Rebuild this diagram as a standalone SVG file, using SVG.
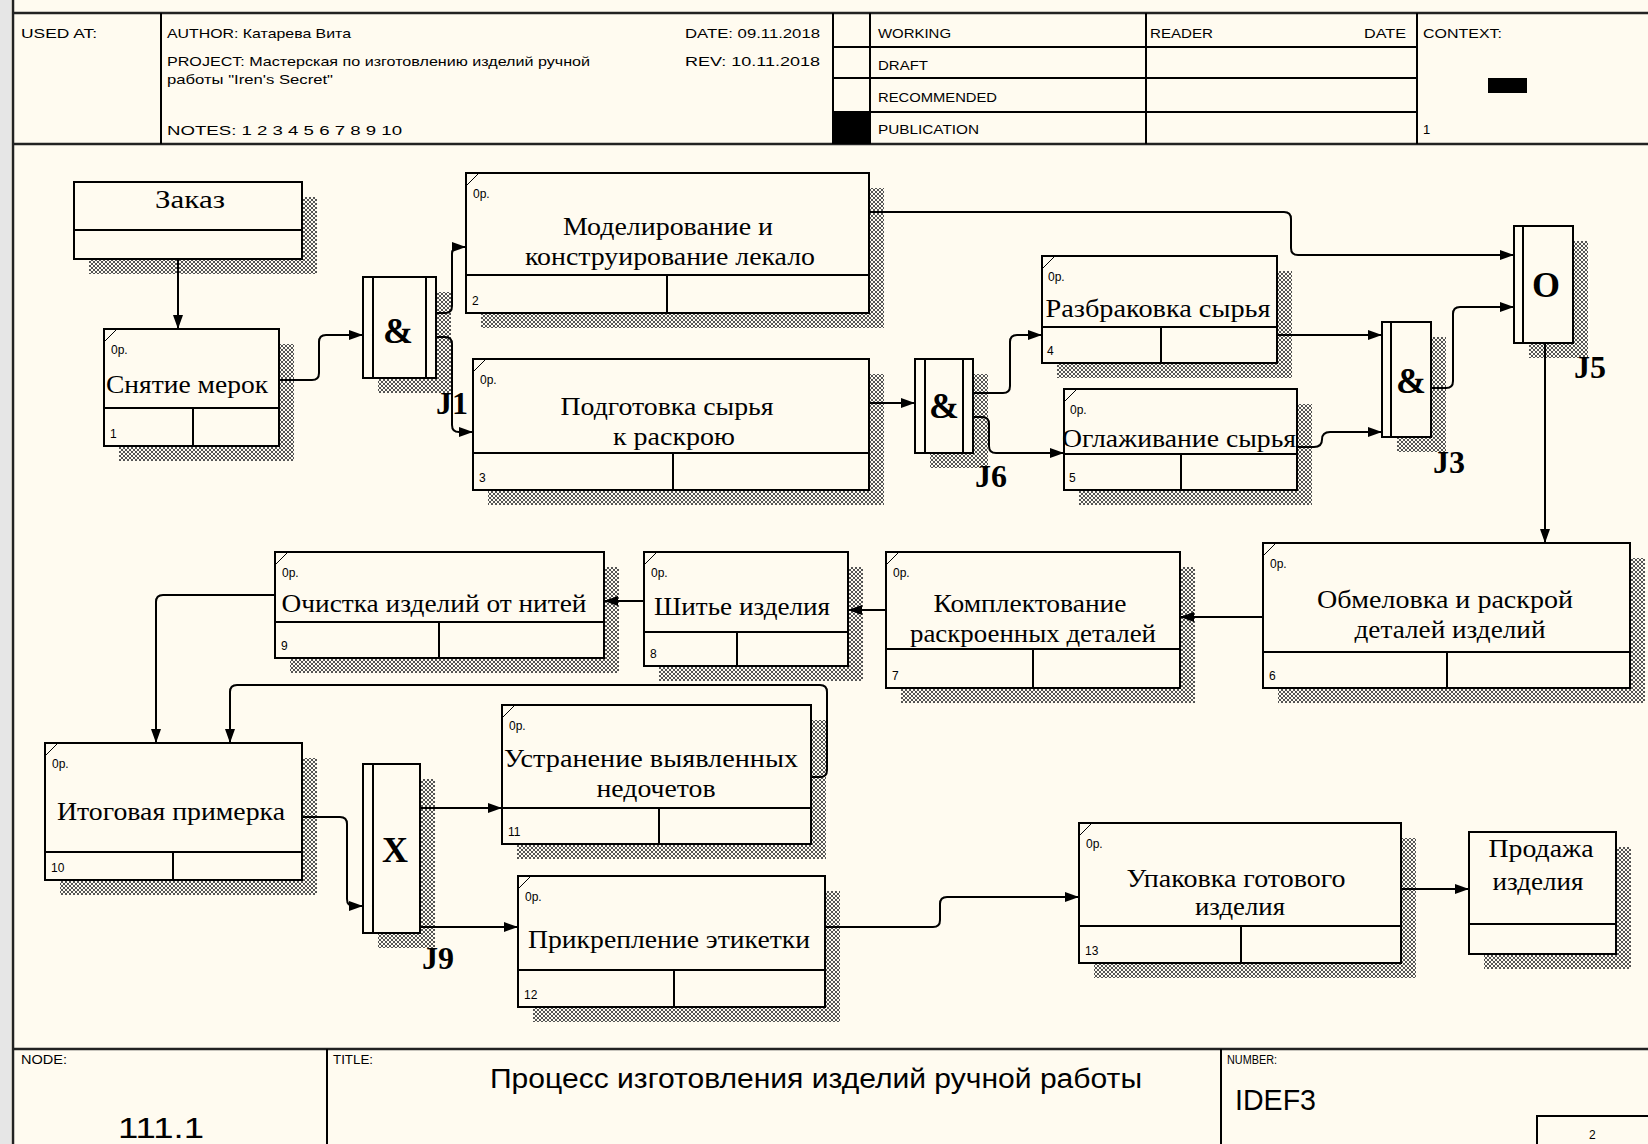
<svg xmlns="http://www.w3.org/2000/svg" width="1648" height="1144" viewBox="0 0 1648 1144">
<style>
.bg{fill:#FFFBF0}
.box{fill:#FFFBF0;stroke:#000;stroke-width:2}
.ln{stroke:#000;stroke-width:2;fill:none}
.fr{stroke:#222;stroke-width:2.5;fill:none}
.sh{fill:url(#hatch)}
.lbl{font-family:"Liberation Serif","Times New Roman",serif;font-size:25px;text-anchor:middle;fill:#000}
.sm{font-family:"Liberation Sans",Arial,sans-serif;font-size:12px;fill:#000}
.jl{font-family:"Liberation Serif","Times New Roman",serif;font-weight:bold;font-size:32px;fill:#000}
.js{font-family:"Liberation Serif","Times New Roman",serif;font-weight:bold;font-size:36px;text-anchor:middle;fill:#000}
.hd{font-family:"Liberation Sans",Arial,sans-serif;font-size:13px;fill:#000}
.big{font-family:"Liberation Sans",Arial,sans-serif;font-size:28px;fill:#000}
.con{stroke:#000;stroke-width:2;fill:none;marker-end:url(#arr)}
</style>
<defs>
<pattern id="hatch" width="4" height="4" patternUnits="userSpaceOnUse">
<path d="M0,0h1v1h-1zM1,1h1v1h-1zM2,2h1v1h-1zM3,3h1v1h-1zM3,0h1v1h-1zM2,1h1v1h-1zM1,2h1v1h-1zM0,3h1v1h-1z" fill="#555"/>
</pattern>
<marker id="arr" viewBox="0 0 14 10" refX="14" refY="5" markerWidth="14" markerHeight="10" markerUnits="userSpaceOnUse" orient="auto">
<path d="M0,0 L14,5 L0,10 z" fill="#000"/>
</marker>
</defs>
<rect class="bg" x="0" y="0" width="1648" height="1144"/>
<rect x="0" y="0" width="11" height="1144" fill="#E6E6E6"/>

<g id="frame">
<line class="fr" x1="13" y1="0" x2="13" y2="1144"/>
<line class="fr" x1="13" y1="13" x2="1648" y2="13"/>
<line class="fr" x1="13" y1="144" x2="1648" y2="144"/>
<line class="ln" x1="161" y1="13" x2="161" y2="144"/>
<line class="ln" x1="833" y1="13" x2="833" y2="144"/>
<line class="ln" x1="870" y1="13" x2="870" y2="144"/>
<line class="ln" x1="1146" y1="13" x2="1146" y2="144"/>
<line class="ln" x1="1417" y1="13" x2="1417" y2="144"/>
<line class="ln" x1="833" y1="47" x2="1417" y2="47"/>
<line class="ln" x1="833" y1="78" x2="1417" y2="78"/>
<line class="ln" x1="833" y1="112" x2="1417" y2="112"/>
<rect x="833" y="112" width="37" height="32" fill="#000"/>
<rect x="1488" y="78" width="39" height="15" fill="#000"/>
<text class="hd" x="21" y="38" textLength="76" lengthAdjust="spacingAndGlyphs">USED AT:</text>
<text class="hd" x="167" y="38" textLength="184" lengthAdjust="spacingAndGlyphs">AUTHOR:  Катарева Вита</text>
<text class="hd" x="167" y="66" textLength="423" lengthAdjust="spacingAndGlyphs">PROJECT:  Мастерская по изготовлению изделий ручной</text>
<text class="hd" x="167" y="84" textLength="166" lengthAdjust="spacingAndGlyphs">работы "Iren's Secret"</text>
<text class="hd" x="167" y="135" textLength="235" lengthAdjust="spacingAndGlyphs">NOTES:  1  2  3  4  5  6  7  8  9  10</text>
<text class="hd" x="685" y="38" textLength="135" lengthAdjust="spacingAndGlyphs">DATE:  09.11.2018</text>
<text class="hd" x="685" y="66" textLength="135" lengthAdjust="spacingAndGlyphs">REV:    10.11.2018</text>
<text class="hd" x="878" y="38" textLength="73" lengthAdjust="spacingAndGlyphs">WORKING</text>
<text class="hd" x="878" y="70" textLength="50" lengthAdjust="spacingAndGlyphs">DRAFT</text>
<text class="hd" x="878" y="102" textLength="119" lengthAdjust="spacingAndGlyphs">RECOMMENDED</text>
<text class="hd" x="878" y="134" textLength="101" lengthAdjust="spacingAndGlyphs">PUBLICATION</text>
<text class="hd" x="1150" y="38" textLength="63" lengthAdjust="spacingAndGlyphs">READER</text>
<text class="hd" x="1364" y="38" textLength="42" lengthAdjust="spacingAndGlyphs">DATE</text>
<text class="hd" x="1423" y="38" textLength="79" lengthAdjust="spacingAndGlyphs">CONTEXT:</text>
<text class="hd" x="1423" y="134">1</text>

<line class="fr" x1="13" y1="1049" x2="1648" y2="1049"/>
<line class="ln" x1="327" y1="1049" x2="327" y2="1144"/>
<line class="ln" x1="1221" y1="1049" x2="1221" y2="1144"/>
<polyline class="ln" points="1537,1144 1537,1116 1648,1116"/>
<text class="sm" x="21" y="1064" textLength="46" lengthAdjust="spacingAndGlyphs">NODE:</text>
<text class="sm" x="333" y="1064" textLength="40" lengthAdjust="spacingAndGlyphs">TITLE:</text>
<text class="sm" x="1227" y="1064" textLength="50" lengthAdjust="spacingAndGlyphs">NUMBER:</text>
<text class="hd" x="816" y="1088" style="font-size:27px" text-anchor="middle" textLength="652" lengthAdjust="spacingAndGlyphs">Процесс изготовления  изделий ручной работы</text>
<text class="big" x="118" y="1138" style="font-size:30px" textLength="86" lengthAdjust="spacingAndGlyphs">111.1</text>
<text class="big" x="1235" y="1110" style="font-size:30px" textLength="81" lengthAdjust="spacingAndGlyphs">IDEF3</text>
<text class="sm" x="1589" y="1139">2</text>
</g>

<g id="ref-zakaz">
<rect class="sh" x="302" y="197" width="15" height="77"/><rect class="sh" x="89" y="259" width="213" height="15"/>
<rect class="box" x="74" y="182" width="228" height="77"/>
<line class="ln" x1="74" y1="230" x2="302" y2="230"/>
<text class="lbl" x="190" y="208" textLength="70" lengthAdjust="spacingAndGlyphs">Заказ</text>
</g>

<g id="uob1">
<rect class="sh" x="279" y="344" width="15" height="117"/><rect class="sh" x="119" y="446" width="160" height="15"/>
<rect class="box" x="104" y="329" width="175" height="117"/>
<line class="ln" x1="104" y1="408" x2="279" y2="408"/><line class="ln" x1="193" y1="408" x2="193" y2="446"/>
<line class="ln" x1="104" y1="342" x2="117" y2="329" style="stroke-width:1"/>
<text class="sm" x="111" y="354">0p.</text><text class="sm" x="110" y="438">1</text>
<text class="lbl" x="187" y="393" textLength="162" lengthAdjust="spacingAndGlyphs">Снятие мерок</text>
</g>

<g id="uob2">
<rect class="sh" x="869" y="188" width="15" height="140"/><rect class="sh" x="481" y="313" width="388" height="15"/>
<rect class="box" x="466" y="173" width="403" height="140"/>
<line class="ln" x1="466" y1="275" x2="869" y2="275"/><line class="ln" x1="667" y1="275" x2="667" y2="313"/>
<line class="ln" x1="466" y1="186" x2="479" y2="173" style="stroke-width:1"/>
<text class="sm" x="473" y="198">0p.</text><text class="sm" x="472" y="305">2</text>
<text class="lbl" x="668" y="235" textLength="210" lengthAdjust="spacingAndGlyphs">Моделирование и</text>
<text class="lbl" x="670" y="265" textLength="290" lengthAdjust="spacingAndGlyphs">конструирование лекало</text>
</g>

<g id="uob3">
<rect class="sh" x="869" y="374" width="15" height="131"/><rect class="sh" x="488" y="490" width="381" height="15"/>
<rect class="box" x="473" y="359" width="396" height="131"/>
<line class="ln" x1="473" y1="453" x2="869" y2="453"/><line class="ln" x1="673" y1="453" x2="673" y2="490"/>
<line class="ln" x1="473" y1="372" x2="486" y2="359" style="stroke-width:1"/>
<text class="sm" x="480" y="384">0p.</text><text class="sm" x="479" y="482">3</text>
<text class="lbl" x="667" y="415" textLength="213" lengthAdjust="spacingAndGlyphs">Подготовка сырья</text>
<text class="lbl" x="674" y="445" textLength="122" lengthAdjust="spacingAndGlyphs">к раскрою</text>
</g>

<g id="uob4">
<rect class="sh" x="1277" y="271" width="15" height="107"/><rect class="sh" x="1057" y="363" width="220" height="15"/>
<rect class="box" x="1042" y="256" width="235" height="107"/>
<line class="ln" x1="1042" y1="327" x2="1277" y2="327"/><line class="ln" x1="1161" y1="327" x2="1161" y2="363"/>
<line class="ln" x1="1042" y1="269" x2="1055" y2="256" style="stroke-width:1"/>
<text class="sm" x="1048" y="281">0p.</text><text class="sm" x="1047" y="355">4</text>
<text class="lbl" x="1158" y="317" textLength="225" lengthAdjust="spacingAndGlyphs">Разбраковка сырья</text>
</g>

<g id="uob5">
<rect class="sh" x="1297" y="404" width="15" height="101"/><rect class="sh" x="1079" y="490" width="218" height="15"/>
<rect class="box" x="1064" y="389" width="233" height="101"/>
<line class="ln" x1="1064" y1="454" x2="1297" y2="454"/><line class="ln" x1="1181" y1="454" x2="1181" y2="490"/>
<line class="ln" x1="1064" y1="402" x2="1077" y2="389" style="stroke-width:1"/>
<text class="sm" x="1070" y="414">0p.</text><text class="sm" x="1069" y="482">5</text>
<text class="lbl" x="1179" y="447" textLength="234" lengthAdjust="spacingAndGlyphs">Оглаживание сырья</text>
</g>

<g id="uob6">
<rect class="sh" x="1630" y="558" width="15" height="145"/><rect class="sh" x="1278" y="688" width="352" height="15"/>
<rect class="box" x="1263" y="543" width="367" height="145"/>
<line class="ln" x1="1263" y1="652" x2="1630" y2="652"/><line class="ln" x1="1447" y1="652" x2="1447" y2="688"/>
<line class="ln" x1="1263" y1="556" x2="1276" y2="543" style="stroke-width:1"/>
<text class="sm" x="1270" y="568">0p.</text><text class="sm" x="1269" y="680">6</text>
<text class="lbl" x="1445" y="608" textLength="256" lengthAdjust="spacingAndGlyphs">Обмеловка и раскрой</text>
<text class="lbl" x="1450" y="638" textLength="191" lengthAdjust="spacingAndGlyphs">деталей изделий</text>
</g>

<g id="uob7">
<rect class="sh" x="1180" y="567" width="15" height="136"/><rect class="sh" x="901" y="688" width="279" height="15"/>
<rect class="box" x="886" y="552" width="294" height="136"/>
<line class="ln" x1="886" y1="649" x2="1180" y2="649"/><line class="ln" x1="1033" y1="649" x2="1033" y2="688"/>
<line class="ln" x1="886" y1="565" x2="899" y2="552" style="stroke-width:1"/>
<text class="sm" x="893" y="577">0p.</text><text class="sm" x="892" y="680">7</text>
<text class="lbl" x="1030" y="612" textLength="193" lengthAdjust="spacingAndGlyphs">Комплектование</text>
<text class="lbl" x="1033" y="642" textLength="246" lengthAdjust="spacingAndGlyphs">раскроенных деталей</text>
</g>

<g id="uob8">
<rect class="sh" x="848" y="567" width="15" height="114"/><rect class="sh" x="659" y="666" width="189" height="15"/>
<rect class="box" x="644" y="552" width="204" height="114"/>
<line class="ln" x1="644" y1="632" x2="848" y2="632"/><line class="ln" x1="737" y1="632" x2="737" y2="666"/>
<line class="ln" x1="644" y1="565" x2="657" y2="552" style="stroke-width:1"/>
<text class="sm" x="651" y="577">0p.</text><text class="sm" x="650" y="658">8</text>
<text class="lbl" x="742" y="615" textLength="176" lengthAdjust="spacingAndGlyphs">Шитье изделия</text>
</g>

<g id="uob9">
<rect class="sh" x="604" y="567" width="15" height="106"/><rect class="sh" x="290" y="658" width="314" height="15"/>
<rect class="box" x="275" y="552" width="329" height="106"/>
<line class="ln" x1="275" y1="622" x2="604" y2="622"/><line class="ln" x1="439" y1="622" x2="439" y2="658"/>
<line class="ln" x1="275" y1="565" x2="288" y2="552" style="stroke-width:1"/>
<text class="sm" x="282" y="577">0p.</text><text class="sm" x="281" y="650">9</text>
<text class="lbl" x="434" y="612" textLength="305" lengthAdjust="spacingAndGlyphs">Очистка изделий от нитей</text>
</g>

<g id="uob10">
<rect class="sh" x="302" y="758" width="15" height="137"/><rect class="sh" x="60" y="880" width="242" height="15"/>
<rect class="box" x="45" y="743" width="257" height="137"/>
<line class="ln" x1="45" y1="852" x2="302" y2="852"/><line class="ln" x1="173" y1="852" x2="173" y2="880"/>
<line class="ln" x1="45" y1="756" x2="58" y2="743" style="stroke-width:1"/>
<text class="sm" x="52" y="768">0p.</text><text class="sm" x="51" y="872">10</text>
<text class="lbl" x="171" y="820" textLength="228" lengthAdjust="spacingAndGlyphs">Итоговая примерка</text>
</g>

<g id="uob11">
<rect class="sh" x="811" y="720" width="15" height="139"/><rect class="sh" x="517" y="844" width="294" height="15"/>
<rect class="box" x="502" y="705" width="309" height="139"/>
<line class="ln" x1="502" y1="808" x2="811" y2="808"/><line class="ln" x1="659" y1="808" x2="659" y2="844"/>
<line class="ln" x1="502" y1="718" x2="515" y2="705" style="stroke-width:1"/>
<text class="sm" x="509" y="730">0p.</text><text class="sm" x="508" y="836">11</text>
<text class="lbl" x="651" y="767" textLength="294" lengthAdjust="spacingAndGlyphs">Устранение  выявленных</text>
<text class="lbl" x="656" y="797" textLength="119" lengthAdjust="spacingAndGlyphs">недочетов</text>
</g>

<g id="uob12">
<rect class="sh" x="825" y="891" width="15" height="131"/><rect class="sh" x="533" y="1007" width="292" height="15"/>
<rect class="box" x="518" y="876" width="307" height="131"/>
<line class="ln" x1="518" y1="970" x2="825" y2="970"/><line class="ln" x1="674" y1="970" x2="674" y2="1007"/>
<line class="ln" x1="518" y1="889" x2="531" y2="876" style="stroke-width:1"/>
<text class="sm" x="525" y="901">0p.</text><text class="sm" x="524" y="999">12</text>
<text class="lbl" x="669" y="948" textLength="282" lengthAdjust="spacingAndGlyphs">Прикрепление этикетки</text>
</g>

<g id="uob13">
<rect class="sh" x="1401" y="838" width="15" height="140"/><rect class="sh" x="1094" y="963" width="307" height="15"/>
<rect class="box" x="1079" y="823" width="322" height="140"/>
<line class="ln" x1="1079" y1="926" x2="1401" y2="926"/><line class="ln" x1="1241" y1="926" x2="1241" y2="963"/>
<line class="ln" x1="1079" y1="836" x2="1092" y2="823" style="stroke-width:1"/>
<text class="sm" x="1086" y="848">0p.</text><text class="sm" x="1085" y="955">13</text>
<text class="lbl" x="1236" y="887" textLength="219" lengthAdjust="spacingAndGlyphs">Упаковка готового</text>
<text class="lbl" x="1240" y="915" textLength="90" lengthAdjust="spacingAndGlyphs">изделия</text>
</g>

<g id="ref-prodazha">
<rect class="sh" x="1616" y="847" width="15" height="122"/><rect class="sh" x="1484" y="954" width="132" height="15"/>
<rect class="box" x="1469" y="832" width="147" height="122"/>
<line class="ln" x1="1469" y1="924" x2="1616" y2="924"/>
<text class="lbl" x="1541" y="857" textLength="105" lengthAdjust="spacingAndGlyphs">Продажа</text>
<text class="lbl" x="1538" y="890" textLength="91" lengthAdjust="spacingAndGlyphs">изделия</text>
</g>

<g id="j1">
<rect class="sh" x="436" y="292" width="15" height="101"/><rect class="sh" x="378" y="378" width="58" height="15"/>
<rect class="box" x="363" y="277" width="73" height="101"/>
<line class="ln" x1="373" y1="277" x2="373" y2="378"/><line class="ln" x1="426" y1="277" x2="426" y2="378"/>
<text class="js" x="398" y="343">&amp;</text>
<text class="jl" x="436" y="414">J1</text>
</g>

<g id="j6">
<rect class="sh" x="973" y="374" width="15" height="94"/><rect class="sh" x="930" y="453" width="43" height="15"/>
<rect class="box" x="915" y="359" width="58" height="94"/>
<line class="ln" x1="925" y1="359" x2="925" y2="453"/><line class="ln" x1="963" y1="359" x2="963" y2="453"/>
<text class="js" x="944" y="418">&amp;</text>
<text class="jl" x="975" y="487">J6</text>
</g>

<g id="j3">
<rect class="sh" x="1431" y="337" width="15" height="115"/><rect class="sh" x="1397" y="437" width="34" height="15"/>
<rect class="box" x="1382" y="322" width="49" height="115"/>
<line class="ln" x1="1391" y1="322" x2="1391" y2="437"/>
<text class="js" x="1411" y="393">&amp;</text>
<text class="jl" x="1433" y="473">J3</text>
</g>

<g id="j5">
<rect class="sh" x="1573" y="241" width="15" height="117"/><rect class="sh" x="1529" y="343" width="44" height="15"/>
<rect class="box" x="1514" y="226" width="59" height="117"/>
<line class="ln" x1="1523" y1="226" x2="1523" y2="343"/>
<text class="js" x="1546" y="297">O</text>
<text class="jl" x="1574" y="378">J5</text>
</g>

<g id="j9">
<rect class="sh" x="420" y="779" width="15" height="169"/><rect class="sh" x="378" y="933" width="42" height="15"/>
<rect class="box" x="363" y="764" width="57" height="169"/>
<line class="ln" x1="373" y1="764" x2="373" y2="933"/>
<text class="js" x="395" y="862">X</text>
<text class="jl" x="422" y="969">J9</text>
</g>

<g id="connectors">
<path class="con" d="M178,259 V329"/>
<path class="con" d="M279,380 H312 Q319,380 319,373 V342 Q319,335 326,335 H363"/>
<path class="con" d="M436,313 H445 Q452,313 452,306 V254 Q452,247 459,247 H466"/>
<path class="con" d="M436,337 H445 Q452,337 452,344 V425 Q452,432 459,432 H473"/>
<path class="con" d="M869,212 H1284 Q1291,212 1291,219 V248 Q1291,255 1298,255 H1514"/>
<path class="con" d="M869,403 H915"/>
<path class="con" d="M973,393 H1003 Q1010,393 1010,386 V342 Q1010,335 1017,335 H1042"/>
<path class="con" d="M973,417 H982 Q989,417 989,424 V446 Q989,453 996,453 H1064"/>
<path class="con" d="M1277,335 H1382"/>
<path class="con" d="M1297,447 H1314 Q1322,447 1322,439.5 Q1322,432 1330,432 H1382"/>
<path class="con" d="M1431,388 H1446 Q1453,388 1453,381 V314 Q1453,307 1460,307 H1514"/>
<path class="con" d="M1545,343 V543"/>
<path class="con" d="M1263,617 H1180"/>
<path class="con" d="M886,610 H848"/>
<path class="con" d="M644,601 H604"/>
<path class="con" d="M275,595 H163 Q156,595 156,602 V743"/>
<path class="con" d="M811,777 H820 Q827,777 827,770 V692 Q827,685 820,685 H237 Q230,685 230,692 V743"/>
<path class="con" d="M302,817 H340 Q347,817 347,824 V899 Q347,906 354,906 H363"/>
<path class="con" d="M420,808 H502"/>
<path class="con" d="M420,927 H518"/>
<path class="con" d="M825,927 H933 Q940,927 940,920 V904 Q940,897 947,897 H1079"/>
<path class="con" d="M1401,889 H1469"/>
</g>
</svg>
